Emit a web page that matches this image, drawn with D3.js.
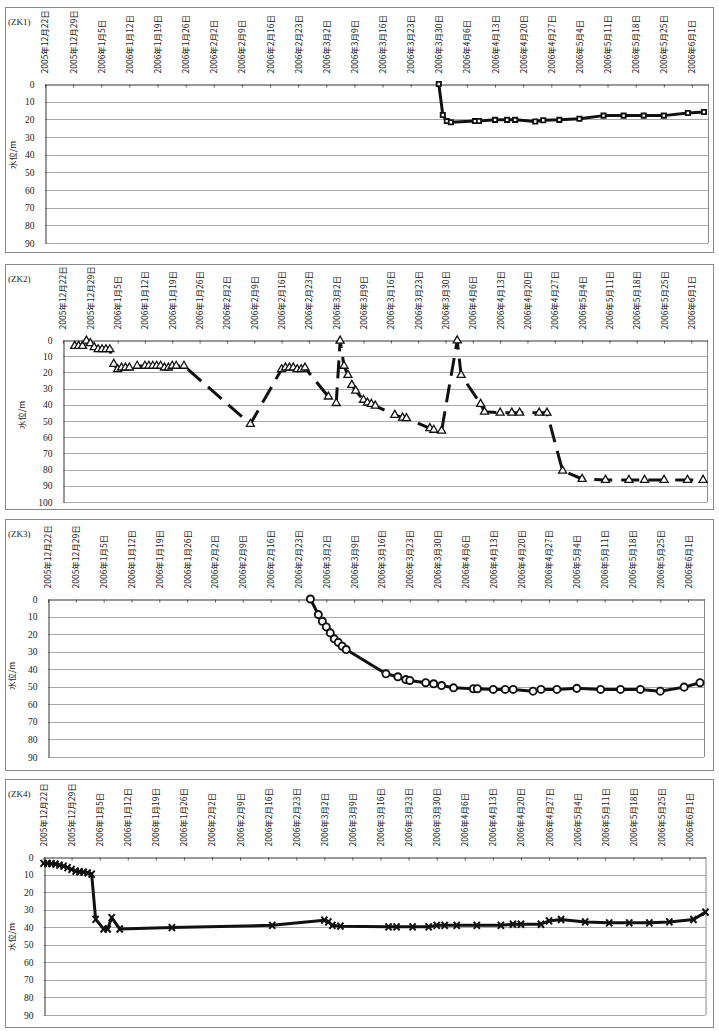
<!DOCTYPE html>
<html>
<head>
<meta charset="utf-8">
<script src="https://cdn.jsdelivr.net/npm/d3@7"></script>
<style>
  body { margin: 0; background: #fff; }
  svg { display: block; }
</style>
</head>
<body>
<svg id="chart" width="719" height="1033"></svg>
<script>
(function () {
  'use strict';

  // ── Data ──────────────────────────────────────────────────────────────────
  var xTickLabels = [
    '2005年12月22日', '2005年12月29日', '2006年1月5日', '2006年1月12日',
    '2006年1月19日', '2006年1月26日', '2006年2月2日', '2006年2月9日',
    '2006年2月16日', '2006年2月23日', '2006年3月2日', '2006年3月9日',
    '2006年3月16日', '2006年3月23日', '2006年3月30日', '2006年4月6日',
    '2006年4月13日', '2006年4月20日', '2006年4月27日', '2006年5月4日',
    '2006年5月11日', '2006年5月18日', '2006年5月25日', '2006年6月1日'
  ];
  var xDomain = ['2005-12-22', '2006-06-05'];
  var yTicks90  = [0, 10, 20, 30, 40, 50, 60, 70, 80, 90];
  var yTicks100 = [0, 10, 20, 30, 40, 50, 60, 70, 80, 90, 100];

  var zk1Dates = ['2006-03-30', '2006-03-31', '2006-04-01', '2006-04-02', '2006-04-08',
    '2006-04-09', '2006-04-13', '2006-04-16', '2006-04-18', '2006-04-23', '2006-04-25',
    '2006-04-29', '2006-05-04', '2006-05-10', '2006-05-15', '2006-05-20', '2006-05-25',
    '2006-05-31', '2006-06-04'];
  var zk1Levels = [0, 17.5, 21, 21.7, 21, 20.9, 20.3, 20.3, 20.3, 21.2, 20.5,
    20.3, 19.7, 17.9, 17.9, 17.9, 17.9, 16.4, 15.8];

  var zk2Dates = ['2005-12-25', '2005-12-26', '2005-12-27', '2005-12-28', '2005-12-29',
    '2005-12-30', '2005-12-31', '2006-01-01', '2006-01-02', '2006-01-03', '2006-01-04',
    '2006-01-05', '2006-01-06', '2006-01-07', '2006-01-08', '2006-01-10', '2006-01-12',
    '2006-01-13', '2006-01-14', '2006-01-15', '2006-01-16', '2006-01-17', '2006-01-18',
    '2006-01-19', '2006-01-20', '2006-01-22', '2006-02-08', '2006-02-16', '2006-02-17',
    '2006-02-18', '2006-02-19', '2006-02-20', '2006-02-21', '2006-02-22', '2006-02-28',
    '2006-03-02', '2006-03-03', '2006-03-04', '2006-03-05', '2006-03-06', '2006-03-07',
    '2006-03-09', '2006-03-10', '2006-03-11', '2006-03-12', '2006-03-17', '2006-03-19',
    '2006-03-20', '2006-03-26', '2006-03-27', '2006-03-29', '2006-04-02', '2006-04-03',
    '2006-04-08', '2006-04-09', '2006-04-13', '2006-04-16', '2006-04-18', '2006-04-23',
    '2006-04-25', '2006-04-29', '2006-05-04', '2006-05-10', '2006-05-16', '2006-05-20',
    '2006-05-25', '2006-05-31', '2006-06-04'];
  var zk2Levels = [3.7, 3.7, 3.7, 0.5, 2, 4.5, 5.8, 5.8, 5.8, 5.8, 14.8,
    18.1, 17.1, 17.1, 17.1, 16, 16, 16, 16, 16, 16, 17.1, 17.1,
    16, 16, 16, 51.9, 18.1, 17.1, 17.1, 17.1, 18.1, 18.1, 17.1, 35,
    39, 0.5, 16, 21.6, 27.8, 31.3, 37, 38.7, 39.5, 40.6, 46.3, 48,
    48.3, 54.5, 55.5, 56, 0.3, 21.6, 39.5, 44.3, 44.9, 44.9, 44.9, 44.9,
    44.9, 80.7, 85.8, 86.4, 86.4, 86.4, 86.4, 86.4, 86.4];

  var zk3Dates = ['2006-02-26', '2006-02-28', '2006-03-01', '2006-03-02', '2006-03-03',
    '2006-03-04', '2006-03-05', '2006-03-06', '2006-03-07', '2006-03-17', '2006-03-20',
    '2006-03-22', '2006-03-23', '2006-03-27', '2006-03-29', '2006-03-31', '2006-04-03',
    '2006-04-08', '2006-04-09', '2006-04-13', '2006-04-16', '2006-04-18', '2006-04-23',
    '2006-04-25', '2006-04-29', '2006-05-04', '2006-05-10', '2006-05-15', '2006-05-20',
    '2006-05-25', '2006-05-31', '2006-06-04'];
  var zk3Levels = [0, 8.9, 12.7, 15.9, 19.3, 22.7, 24.7, 26.9, 28.8, 42.6, 44.3,
    45.9, 46.4, 47.7, 48.3, 49.3, 50.6, 51.1, 51.1, 51.5, 51.5, 51.5, 52.5,
    51.5, 51.5, 50.9, 51.5, 51.5, 51.5, 52.5, 50.2, 47.7];

  var zk4Dates = ['2005-12-22', '2005-12-23', '2005-12-24', '2005-12-25', '2005-12-26',
    '2005-12-27', '2005-12-28', '2005-12-29', '2005-12-30', '2005-12-31', '2006-01-01',
    '2006-01-02', '2006-01-03', '2006-01-04', '2006-01-06', '2006-01-07', '2006-01-08',
    '2006-01-10', '2006-01-23', '2006-02-17', '2006-03-02', '2006-03-03', '2006-03-04',
    '2006-03-06', '2006-03-18', '2006-03-20', '2006-03-24', '2006-03-28', '2006-03-30',
    '2006-04-01', '2006-04-04', '2006-04-09', '2006-04-15', '2006-04-18', '2006-04-20',
    '2006-04-25', '2006-04-27', '2006-04-30', '2006-05-06', '2006-05-12', '2006-05-17',
    '2006-05-22', '2006-05-27', '2006-06-02', '2006-06-05'];
  var zk4Levels = [3.6, 3.6, 3.8, 4, 4.6, 5.2, 6.1, 7.1, 8, 8.4, 8.6,
    9, 9.7, 35.5, 41, 41, 34.5, 41, 40.2, 38.9, 36, 37, 38.9,
    39.4, 39.8, 39.8, 39.8, 39.8, 38.9, 38.9, 38.9, 38.9, 38.9, 38.3, 38.3,
    38.3, 36.4, 35.6, 37, 37.5, 37.5, 37.5, 37, 35.6, 31.4];

  // ── Panels layout ─────────────────────────────────────────────────────────
  var panels = [
    { name: '(ZK1)', box: [5, 7, 708, 245], plot: [45, 84, 663, 159], yTicks: yTicks90,
      yTitle: [13, 155], dates: zk1Dates, levels: zk1Levels, marker: 'square', dash: null },
    { name: '(ZK2)', box: [5, 264, 708, 245], plot: [63, 340, 644, 162], yTicks: yTicks100,
      yTitle: [22, 415], dates: zk2Dates, levels: zk2Levels, marker: 'triangle', dash: '18,9' },
    { name: '(ZK3)', box: [5, 519, 708, 251], plot: [48, 599, 656, 158], yTicks: yTicks90,
      yTitle: [12, 676], dates: zk3Dates, levels: zk3Levels, marker: 'circle', dash: null },
    { name: '(ZK4)', box: [5, 779, 708, 248], plot: [43.5, 857, 662, 158], yTicks: yTicks90,
      yTitle: [12, 937], dates: zk4Dates, levels: zk4Levels, marker: 'cross', dash: null }
  ];

  var parseDay = d3.timeParse('%Y-%m-%d');
  function parseLabel(s) {
    var m = s.match(/(\d+)年(\d+)月(\d+)日/);
    return new Date(+m[1], +m[2] - 1, +m[3]);
  }
  var tickDates = xTickLabels.map(parseLabel);

  var svg = d3.select('#chart');
  var cjk = '"Noto Sans CJK SC", "Noto Sans CJK JP", sans-serif';
  var serif = '"Liberation Serif", "DejaVu Serif", serif';

  var markerPaths = {
    square:   d3.symbol(d3.symbolSquare, 18)(),
    triangle: d3.symbol(d3.symbolTriangle, 28)(),
    circle:   d3.symbol(d3.symbolCircle, 40)(),
    cross:    'M-3,-3.5L3,3.5M-3,3.5L3,-3.5'
  };
  var markerStroke = { square: 1.8, triangle: 1.3, circle: 1.9, cross: 2 };

  panels.forEach(function (p) {
    var g = svg.append('g');
    var px = p.plot[0], py = p.plot[1], pw = p.plot[2], ph = p.plot[3];

    g.append('rect')
      .attr('x', p.box[0] + 0.5).attr('y', p.box[1] + 0.5)
      .attr('width', p.box[2]).attr('height', p.box[3])
      .attr('fill', '#fff').attr('stroke', '#8a8a8a').attr('stroke-width', 1);

    var x = d3.scaleTime().domain(xDomain.map(parseDay)).range([px, px + pw]);
    var y = d3.scaleLinear().domain([0, p.yTicks[p.yTicks.length - 1]]).range([py, py + ph]);

    // gridlines
    g.append('g').selectAll('line').data(p.yTicks.slice(1)).join('line')
      .attr('x1', px).attr('x2', px + pw)
      .attr('y1', function (d) { return Math.round(y(d)) + 0.5; })
      .attr('y2', function (d) { return Math.round(y(d)) + 0.5; })
      .attr('stroke', '#a8a8a8').attr('stroke-width', 1);

    // right border
    g.append('line')
      .attr('x1', px + pw + 0.5).attr('x2', px + pw + 0.5)
      .attr('y1', py).attr('y2', py + ph)
      .attr('stroke', '#8a8a8a');

    // x axis (top)
    var xAxis = d3.axisTop(x).tickValues(tickDates).tickSize(-3).tickSizeOuter(0)
      .tickFormat(function (d, i) { return xTickLabels[i]; });
    var gx = g.append('g').attr('transform', 'translate(0,' + (Math.round(py) + 0.5) + ')').call(xAxis);
    gx.select('.domain').attr('stroke', '#333');
    gx.selectAll('.tick line').attr('stroke', '#555');
    gx.selectAll('.tick text')
      .attr('transform', 'rotate(-90)')
      .attr('x', 11).attr('y', 0).attr('dy', '0.35em')
      .style('text-anchor', 'start')
      .style('font-family', cjk).style('font-size', '8.5px').attr('fill', '#1a1a1a');

    // y axis (left)
    var yAxis = d3.axisLeft(y).tickValues(p.yTicks).tickSize(0).tickPadding(11);
    var gy = g.append('g').attr('transform', 'translate(' + (Math.round(px) + 0.5) + ',0)').call(yAxis);
    gy.select('.domain').attr('stroke', '#333');
    gy.selectAll('.tick text')
      .style('font-family', serif).style('font-size', '9.5px').attr('fill', '#1a1a1a');

    // titles
    g.append('text')
      .attr('x', p.box[0] + 3).attr('y', p.box[1] + 18)
      .style('font-family', serif).style('font-size', '9px').attr('fill', '#1a1a1a')
      .text(p.name);
    g.append('text')
      .attr('transform', 'translate(' + p.yTitle[0] + ',' + p.yTitle[1] + ') rotate(-90)')
      .attr('text-anchor', 'middle').attr('dy', '0.35em')
      .style('font-family', cjk).style('font-size', '8.5px').attr('fill', '#1a1a1a')
      .text('水位/m');

    // series
    var pts = p.dates.map(function (d, i) { return { date: parseDay(d), level: p.levels[i] }; });
    var line = d3.line()
      .x(function (d) { return x(d.date); })
      .y(function (d) { return y(d.level); });

    g.append('path').datum(pts)
      .attr('d', line)
      .attr('fill', 'none').attr('stroke', '#111')
      .attr('stroke-width', 3)
      .attr('stroke-linejoin', 'round')
      .attr('stroke-dasharray', p.dash);

    g.append('g').selectAll('path').data(pts).join('path')
      .attr('transform', function (d) { return 'translate(' + x(d.date) + ',' + y(d.level) + ')'; })
      .attr('d', markerPaths[p.marker])
      .attr('fill', p.marker === 'cross' ? 'none' : '#fff')
      .attr('stroke', '#111')
      .attr('stroke-width', markerStroke[p.marker]);
  });
})();
</script>
</body>
</html>
